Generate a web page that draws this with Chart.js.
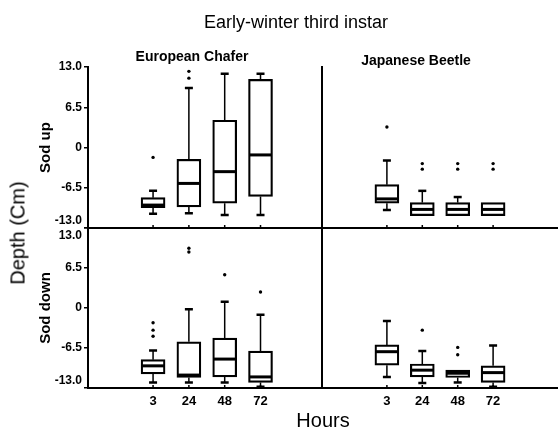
<!DOCTYPE html>
<html>
<head>
<meta charset="utf-8">
<script src="https://cdn.jsdelivr.net/npm/chart.js@4/dist/chart.umd.min.js"></script>
<style>
    body { margin: 0; background: #fff; }
    #wrap { position: relative; width: 558px; height: 430px; overflow: hidden; font-family: "Liberation Sans", Arial, sans-serif; color: #000; }
    #wrap canvas { position: absolute; left: 0; top: 0; }
    .lbl { position: absolute; transform: translate(-50%, -50%); white-space: nowrap; }
</style>
</head>
<body>
<div id="wrap">
    <canvas id="tl" width="558" height="430"></canvas>
    <canvas id="tr" width="558" height="430"></canvas>
    <canvas id="bl" width="558" height="430"></canvas>
    <canvas id="br" width="558" height="430"></canvas>
    <div class="lbl" style="left:296px; top:22px; font-size:18px;">Early-winter third instar</div>
    <div class="lbl" style="left:192px; top:56px; font-size:14px; font-weight:bold;">European Chafer</div>
    <div class="lbl" style="left:416px; top:60px; font-size:14px; font-weight:bold;">Japanese Beetle</div>
    <div class="lbl" style="left:18px; top:233px; font-size:20px; transform: translate(-50%, -50%) rotate(-90deg);">Depth (Cm)</div>
    <div class="lbl" style="left:323px; top:420px; font-size:20px;">Hours</div>
</div>
<script>
'use strict';

const hours = ['3', '24', '48', '72'];
const yTickValues = [13, 6.5, 0, -6.5, -13];
const yTickLabels = ['13.0', '6.5', '0', '-6.5', '-13.0'];

// European Chafer, sod up
const ecUpLow = [-10.7, -10.6, -10.9, -10.9];
const ecUpQ1 = [-9.7, -9.6, -9.0, -7.9];
const ecUpMed = [-9.3, -5.8, -3.9, -1.2];
const ecUpQ3 = [-8.1, -1.9, 4.4, 11.0];
const ecUpHigh = [-7.0, 9.6, 11.9, 11.9];
const ecUpOut = [[-1.6], [12.3, 11.2], [], []];

// Japanese Beetle, sod up
const jbUpLow = [-10.1, -11.0, -11.0, -11.0];
const jbUpQ1 = [-9.0, -11.0, -11.0, -11.0];
const jbUpMed = [-8.3, -10.0, -10.0, -10.0];
const jbUpQ3 = [-6.0, -8.9, -8.9, -8.9];
const jbUpHigh = [-2.1, -7.0, -8.0, -8.9];
const jbUpOut = [[3.3], [-2.6, -3.5], [-2.6, -3.5], [-2.6, -3.5]];

// European Chafer, sod down
const ecDownLow = [-12.1, -12.1, -12.1, -12.8];
const ecDownQ1 = [-10.7, -11.3, -11.2, -12.1];
const ecDownMed = [-9.4, -10.9, -8.3, -11.2];
const ecDownQ3 = [-8.4, -5.5, -4.9, -7.0];
const ecDownHigh = [-6.9, -0.2, 1.0, -1.1];
const ecDownOut = [[-2.4, -3.6, -4.6], [9.7, 9.1], [5.4], [2.6]];

// Japanese Beetle, sod down
const jbDownLow = [-11.2, -12.2, -12.1, -12.8];
const jbDownQ1 = [-9.3, -11.2, -11.3, -12.1];
const jbDownMed = [-7.1, -10.1, -10.6, -10.5];
const jbDownQ3 = [-6.0, -9.1, -10.1, -9.4];
const jbDownHigh = [-2.1, -7.0, -10.1, -6.1];
const jbDownOut = [[], [-3.6], [-6.4, -7.6], []];

const FONT = '"Liberation Sans", Arial, sans-serif';
const INK = '#000';

/**
 * Whiskers, medians and the small inside ticks on the hour axis
 */
function boxPlugin(stats) {
    return {
        id: 'boxExtras',
        afterDatasetsDraw: function (chart) {
            const ctx = chart.ctx;
            const x = chart.scales.x;
            const y = chart.scales.y;
            const half = 12;
            ctx.save();
            ctx.strokeStyle = INK;

            // inside tick marks on the hour axis
            ctx.lineWidth = 1.5;
            ctx.beginPath();
            hours.forEach((h, i) => {
                const px = x.getPixelForValue(i + 1);
                ctx.moveTo(px, chart.chartArea.bottom);
                ctx.lineTo(px, chart.chartArea.bottom - 3);
            });
            ctx.stroke();

            stats.med.forEach((m, i) => {
                const px = x.getPixelForValue(i + 1);
                // whiskers
                ctx.lineWidth = 1.5;
                ctx.beginPath();
                if (stats.high[i] > stats.q3[i]) {
                    ctx.moveTo(px, y.getPixelForValue(stats.q3[i]));
                    ctx.lineTo(px, y.getPixelForValue(stats.high[i]));
                }
                if (stats.low[i] < stats.q1[i]) {
                    ctx.moveTo(px, y.getPixelForValue(stats.q1[i]));
                    ctx.lineTo(px, y.getPixelForValue(stats.low[i]));
                }
                ctx.stroke();
                ctx.lineWidth = 2.5;
                ctx.beginPath();
                if (stats.high[i] > stats.q3[i]) {
                    ctx.moveTo(px - 4, y.getPixelForValue(stats.high[i]));
                    ctx.lineTo(px + 4, y.getPixelForValue(stats.high[i]));
                }
                if (stats.low[i] < stats.q1[i]) {
                    ctx.moveTo(px - 4, y.getPixelForValue(stats.low[i]));
                    ctx.lineTo(px + 4, y.getPixelForValue(stats.low[i]));
                }
                ctx.stroke();
                // median
                ctx.lineWidth = 3;
                ctx.beginPath();
                ctx.moveTo(px - half + 1, y.getPixelForValue(m));
                ctx.lineTo(px + half - 1, y.getPixelForValue(m));
                ctx.stroke();
            });
            ctx.restore();
        }
    };
}

/**
 * Build one panel of the figure
 *
 * @param {string} id      Canvas id
 * @param {Object} stats   Box statistics for the panel
 * @param {Object} opts    Panel placement and axis flags
 */
function makePanel(id, stats, opts) {
    const boxes = stats.q1.map((q, i) => ({ x: i + 1, y: [q, stats.q3[i]] }));
    const outliers = [];
    stats.out.forEach((list, i) => list.forEach((v) => outliers.push({ x: i + 1, y: v })));

    new Chart(document.getElementById(id), {
        type: 'bar',
        data: {
            datasets: [{
                type: 'bar',
                data: boxes,
                backgroundColor: '#fff',
                borderColor: INK,
                borderWidth: 2.2,
                borderSkipped: false,
                barThickness: 24
            }, {
                type: 'scatter',
                data: outliers,
                pointRadius: 1.7,
                pointBackgroundColor: INK,
                pointBorderWidth: 0
            }]
        },
        options: {
            responsive: false,
            animation: false,
            events: [],
            layout: { autoPadding: false, padding: opts.padding },
            plugins: { legend: { display: false }, tooltip: { enabled: false } },
            scales: {
                x: {
                    type: 'linear',
                    min: 0,
                    max: opts.xMax,
                    afterBuildTicks: function (scale) {
                        scale.ticks = hours.map((h, i) => ({ value: i + 1 }));
                    },
                    afterFit: function (scale) {
                        scale.height = opts.showX ? 30 : 0;
                    },
                    grid: { drawOnChartArea: false, drawTicks: false },
                    border: { display: true, color: INK, width: 2 },
                    ticks: {
                        display: opts.showX,
                        autoSkip: false,
                        padding: 6,
                        color: INK,
                        font: { family: FONT, size: 13, weight: 'bold' },
                        callback: function (value) {
                            return hours[value - 1];
                        }
                    }
                },
                y: {
                    min: -13,
                    max: 13,
                    afterBuildTicks: function (scale) {
                        scale.ticks = yTickValues.map((v) => ({ value: v }));
                    },
                    afterFit: function (scale) {
                        scale.width = opts.showY ? 55 : 0;
                    },
                    grid: { drawOnChartArea: false, drawTicks: opts.showY, tickLength: 4, color: INK, lineWidth: 1.5 },
                    border: { display: true, color: INK, width: 2 },
                    title: {
                        display: opts.showY,
                        text: opts.yTitle,
                        color: INK,
                        padding: { top: 4, bottom: 0 },
                        font: { family: FONT, size: 15, weight: 'bold' }
                    },
                    ticks: {
                        display: opts.showY,
                        autoSkip: false,
                        padding: 2,
                        color: INK,
                        font: { family: FONT, size: 12, weight: 'bold' },
                        callback: function (value) {
                            const label = yTickLabels[yTickValues.indexOf(value)];
                            // nudge the shared edge labels apart, like the print
                            if (value === -13) return [label, ''];
                            if (value === 13 && opts.showX) return ['', label];
                            return label;
                        }
                    }
                }
            }
        },
        plugins: [boxPlugin(stats)]
    });
}

makePanel('tl', { low: ecUpLow, q1: ecUpQ1, med: ecUpMed, q3: ecUpQ3, high: ecUpHigh, out: ecUpOut }, {
    padding: { left: 33, right: 236, top: 67, bottom: 202 }, xMax: 4.9, showX: false, showY: true, yTitle: 'Sod up'
});
makePanel('tr', { low: jbUpLow, q1: jbUpQ1, med: jbUpMed, q3: jbUpQ3, high: jbUpHigh, out: jbUpOut }, {
    padding: { left: 322, right: 0, top: 67, bottom: 202 }, xMax: 5, showX: false, showY: false, yTitle: ''
});
makePanel('bl', { low: ecDownLow, q1: ecDownQ1, med: ecDownMed, q3: ecDownQ3, high: ecDownHigh, out: ecDownOut }, {
    padding: { left: 33, right: 236, top: 228, bottom: 12 }, xMax: 4.9, showX: true, showY: true, yTitle: 'Sod down'
});
makePanel('br', { low: jbDownLow, q1: jbDownQ1, med: jbDownMed, q3: jbDownQ3, high: jbDownHigh, out: jbDownOut }, {
    padding: { left: 322, right: 0, top: 228, bottom: 12 }, xMax: 5, showX: true, showY: false, yTitle: ''
});
</script>
</body>
</html>
